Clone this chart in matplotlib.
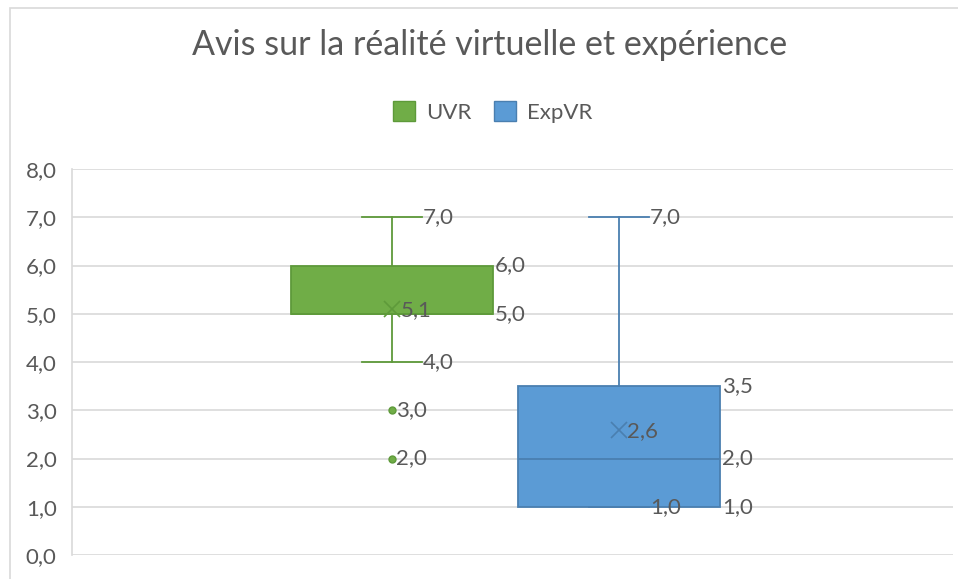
import matplotlib.pyplot as plt
from matplotlib.patches import Patch, Rectangle

plt.rcParams['font.family'] = ['Lato', 'DejaVu Sans']

# séries (valeurs du boxplot)
series = ["UVR", "ExpVR"]
q1 = [5.0, 1.0]
q3 = [6.0, 3.5]
median = [5.0, 2.0]
mean = [5.1, 2.6]
whis_lo = [4.0, 1.0]
whis_hi = [7.0, 7.0]
outliers = [[3.0, 2.0], []]
yticks = [0.0, 1.0, 2.0, 3.0, 4.0, 5.0, 6.0, 7.0, 8.0]

fill = ["#70AD47", "#5B9BD5"]
edge = ["#5E9A3A", "#4A7FB0"]
txt = "#595959"
grid = "#D9D9D9"
fs = 16

def fr(v):
    return f"{v:.1f}".replace(".", ",")

fig = plt.figure(figsize=(9.58, 5.79), dpi=100)
fig.patches.append(Rectangle((9.5 / 958, -0.1), 1.2, 1.1 - 7.5 / 579,
                             transform=fig.transFigure, fill=False,
                             edgecolor=grid, lw=1.2))
ax = fig.add_axes([72 / 958, 24 / 579, 881 / 958, 386 / 579])

pos = [1.0, 2.0]
width = 0.894
capw = 0.26

for i in range(len(series)):
    stats = [dict(med=median[i], q1=q1[i], q3=q3[i], whislo=whis_lo[i],
                  whishi=whis_hi[i], mean=mean[i], fliers=outliers[i])]
    ax.bxp(stats, positions=[pos[i]], widths=width, patch_artist=True,
           showmeans=True, capwidths=capw,
           boxprops=dict(facecolor=fill[i], edgecolor=edge[i], lw=1.3),
           medianprops=dict(color=edge[i], lw=1.3),
           whiskerprops=dict(color=edge[i], lw=1.3),
           capprops=dict(color=edge[i], lw=1.3),
           meanprops=dict(marker="x", markersize=12, markeredgecolor=edge[i],
                          markeredgewidth=1.2),
           flierprops=dict(marker="o", markersize=5, markerfacecolor=fill[i],
                           markeredgecolor=edge[i]),
           zorder=3)

    # étiquettes de données
    lab = dict(textcoords="offset points", ha="left", va="center",
               fontsize=fs, color=txt, zorder=5)
    xr = pos[i] + width / 2
    xc = pos[i] + capw / 2
    ax.annotate(fr(whis_hi[i]), (xc, whis_hi[i]), xytext=(1, 0), **lab)
    ax.annotate(fr(whis_lo[i]), (xc, whis_lo[i]), xytext=(1, 0), **lab)
    ax.annotate(fr(q3[i]), (xr, q3[i]), xytext=(1, 0), **lab)
    ax.annotate(fr(q1[i]), (xr, q1[i]), xytext=(1, 0), **lab)
    if median[i] not in (q1[i], q3[i]):
        ax.annotate(fr(median[i]), (xr, median[i]), xytext=(1, 0), **lab)
    ax.annotate(fr(mean[i]), (pos[i], mean[i]), xytext=(6, -1), **lab)
    for o in outliers[i]:
        ax.annotate(fr(o), (pos[i], o), xytext=(3, 0), **lab)

ax.set_xlim(1 - 320 / 227, 2 + 334 / 227)
ax.set_ylim(0, 8)
ax.set_yticks(yticks)
ax.set_yticklabels([fr(v) for v in yticks])
ax.set_xticks([])
ax.tick_params(axis="y", length=0, pad=11, labelsize=fs, labelcolor=txt)
ax.grid(axis="y", color=grid, lw=1.2, zorder=0)
ax.set_axisbelow(True)
for s in ["top", "right", "bottom"]:
    ax.spines[s].set_visible(False)
ax.spines["left"].set_color(grid)
ax.spines["left"].set_linewidth(1.2)

fig.text(490 / 958, 1 - 45 / 579, "Avis sur la réalité virtuelle et expérience",
         ha="center", va="center", fontsize=24.5, color=txt)

handles = [Patch(facecolor=fill[i], edgecolor=edge[i], label=series[i])
           for i in range(len(series))]
fig.legend(handles=handles, loc="center", bbox_to_anchor=(493 / 958, 1 - 112 / 579),
           ncol=2, frameon=False, fontsize=fs, labelcolor=txt,
           handlelength=1.0, handleheight=1.0, handletextpad=0.5, columnspacing=1.0)

fig.savefig("out.png", dpi=100)
